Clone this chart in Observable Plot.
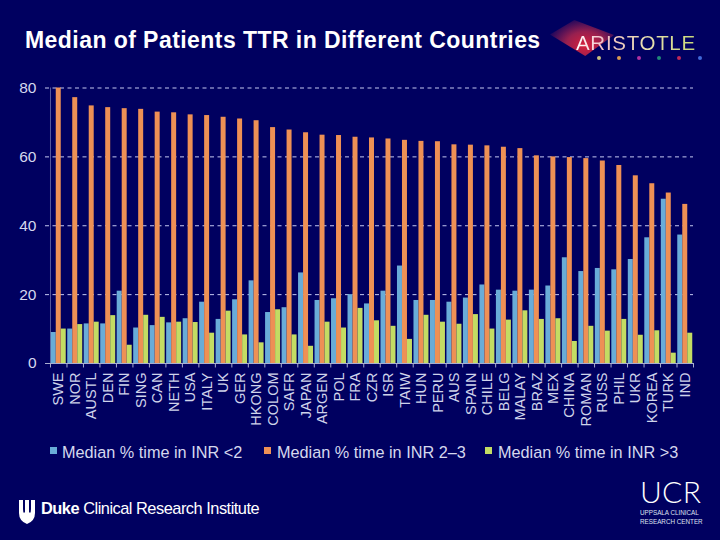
<!DOCTYPE html>
<html><head><meta charset="utf-8">
<script src="https://cdn.jsdelivr.net/npm/d3@7"></script>
<script src="https://cdn.jsdelivr.net/npm/@observablehq/plot@0.6"></script>
<style>
html,body{margin:0;padding:0;background:#000060;width:720px;height:540px;overflow:hidden;font-family:"Liberation Sans",sans-serif}
#chart{position:absolute;left:0;top:70px}
#chart svg{background:transparent;display:block}
.abs{position:absolute;white-space:nowrap}
#title{left:25px;top:27px;font-size:23px;font-weight:bold;color:#fff;letter-spacing:.44px;line-height:26px}
.lg{top:443px;font-size:16.25px;color:#d5d8ee;line-height:18px}
.sw{position:absolute;width:7px;height:7px;top:447px}
</style></head><body>
<div class="abs" id="title">Median of Patients TTR in Different Countries</div>
<div class="abs" style="left:550px;top:20px;width:64px;height:36px;background:radial-gradient(ellipse at 55% 70%,#d8203c 0%,#98204f 38%,#000060 85%);clip-path:polygon(0 40%,38% 0,100% 42%,55% 100%)"></div>
<div class="abs" id="ar" style="left:576px;top:31px;font-size:20.5px;letter-spacing:.7px;background:linear-gradient(90deg,#fff 0%,#f2c0c8 22%,#e8e0b0 60%,#c8d878 100%);-webkit-background-clip:text;background-clip:text;color:transparent">ARISTOTLE</div>
<div id="chart"></div>
<div id="legend"></div>
<svg class="abs" style="left:18px;top:499px" width="18" height="26" viewBox="0 0 18 26"><path d="M1 1h4v9q0 3 1 4l1-1V1h4v12l1 1q1-1 1-4V1h4v13q0 8-8 11Q1 22 1 14z" fill="#fff"/></svg>
<div class="abs" style="left:41px;top:499px;font-size:16.4px;color:#fff;letter-spacing:-.5px"><b>Duke</b> Clinical Research Institute</div>
<div class="abs" style="left:640px;top:476.4px;font-size:30px;font-family:Lato,sans-serif;font-weight:300;color:#fff;letter-spacing:.3px;line-height:30px">UCR</div>
<div class="abs" style="left:640px;top:509px;font-size:6.3px;color:#dfe0f0;line-height:8.5px">UPPSALA CLINICAL<br>RESEARCH CENTER</div>
<script>
const countries = ["SWE","NOR","AUSTL","DEN","FIN","SING","CAN","NETH","USA","ITALY","UK","GER","HKONG","COLOM","SAFR","JAPAN","ARGEN","POL","FRA","CZR","ISR","TAIW","HUN","PERU","AUS","SPAIN","CHILE","BELG","MALAY","BRAZ","MEX","CHINA","ROMAN","RUSS","PHIL","UKR","KOREA","TURK","IND"];
const below = [9,10,11.5,11.5,21,10.3,11,11.8,13,17.8,12.8,18.5,24,14.8,16.2,26.3,18.3,18.8,20,17.3,21,28.3,18.3,18.3,17.8,19,22.8,21.3,21,21.3,22.5,30.7,26.7,27.6,27.2,30.2,36.5,47.7,37.3];
const within = [80,77.2,74.8,74.3,74,73.8,73,72.8,72.2,72,71.5,71,70.5,68.5,67.8,67,66.3,66.2,65.7,65.5,65.2,64.8,64.5,64.4,63.5,63.4,63.2,62.8,62.4,60.3,60,59.8,59.5,58.8,57.5,54.5,52.2,49.5,46.2];
const above = [10,11.3,12,13.9,5.3,14,13.4,12,11.9,8.8,15.2,8.3,6,15.6,8.3,5,12,10.3,16,12.4,10.8,7,14,12,11.4,14.2,10,12.6,15.3,12.8,13,6.4,10.8,9.4,12.8,8.2,9.5,3,8.8];
const seriesNames = ["Median % time in INR <2","Median % time in INR 2–3","Median % time in INR >3"];
const seriesColors = ["#69ACD8","#EE9055","#C3DC63"];
const seriesValues = [below, within, above];
const yTicks = [0,20,40,60,80];
const rows = v => countries.map((c,j)=>({country:c,value:v[j]}));
const barMark = (i) => Plot.barY(rows(seriesValues[i]),{x:"country",y:"value",fill:seriesColors[i],insetLeft:0.75+5*i,insetRight:10.75-5*i});
const chart = Plot.plot({
  width:720, height:358,
  marginTop:17.5, marginBottom:65, marginLeft:50, marginRight:27,
  style:{background:"transparent",fontFamily:"'Liberation Sans',sans-serif"},
  x:{domain:countries,padding:0,round:false,label:null,axis:null},
  y:{domain:[0,80],label:null,axis:null},
  marks:[
    Plot.ruleY(yTicks.slice(1),{insetLeft:-5,stroke:"#c4c8f0",strokeWidth:1,strokeDasharray:"4,3.5"}),
    Plot.ruleX(countries.slice(0,1),{x:d=>d,dx:-8.25,stroke:"#7c80b8",strokeWidth:0.7}),
    barMark(0),barMark(1),barMark(2),
    Plot.ruleY([0],{insetLeft:-5,stroke:"#a9aed0",strokeWidth:1}),
    Plot.ruleX(countries,{x:d=>d,y1:()=>-1.3,y2:()=>0,dx:-8.25,stroke:"#a9aed0",strokeWidth:1}),
    Plot.ruleX(countries.slice(-1),{x:d=>d,y1:()=>-1.3,y2:()=>0,dx:8.25,stroke:"#a9aed0",strokeWidth:1}),
    Plot.axisY(yTicks,{anchor:"left",tickSize:0,tickPadding:14,fontSize:15.5,color:"#d5d8ee",label:null}),
    Plot.axisX({anchor:"bottom",tickRotate:-90,tickSize:0,tickPadding:9,fontSize:14.5,color:"#cfd3ea",label:null})
  ]
});
document.getElementById("chart").appendChild(chart);
const lg=document.getElementById("legend");
[[50,62],[264,277],[485,498]].forEach(([sx,tx],i)=>{
  const sw=document.createElement("div");sw.className="abs sw";sw.style.left=sx+"px";sw.style.background=seriesColors[i];
  const t=document.createElement("div");t.className="abs lg";t.style.left=tx+"px";t.textContent=seriesNames[i];
  lg.append(sw,t);
});
[[599,"#c8c080"],[619,"#d89850"],[639,"#b030a0"],[659,"#208878"],[679,"#c02858"],[700,"#4068d8"]].forEach(([x,c])=>{
  const d=document.createElement("div");d.className="abs";d.style.cssText=`left:${x-2}px;top:56px;width:4px;height:4px;border-radius:50%;background:${c}`;
  document.body.appendChild(d);
});
</script>
</body></html>
